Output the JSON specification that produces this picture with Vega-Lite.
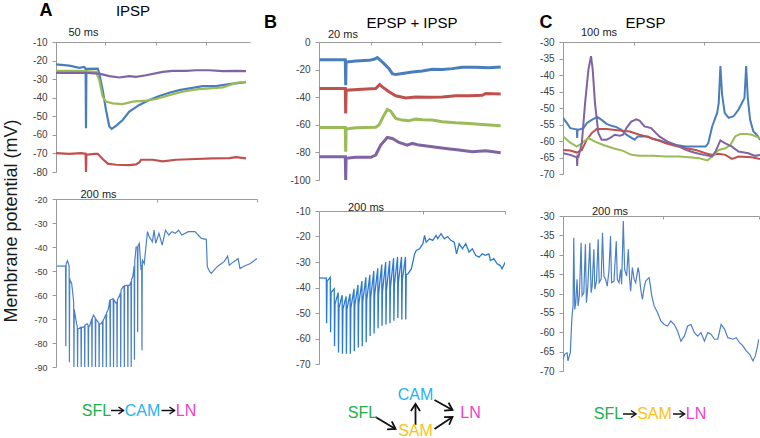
{
  "$schema": "https://vega.github.io/schema/vega-lite/v6.json",
  "background": "white",
  "padding": {"left": 2, "top": 2, "right": 3, "bottom": 0},
  "title": {"text": "Membrane potential (mV)", "orient": "left", "anchor": "middle", "fontSize": 18, "fontWeight": "normal", "font": "Liberation Sans", "color": "#1a1a1a", "offset": 12},
  "config": {
    "view": {"stroke": null},
    "font": "Liberation Sans",
    "axis": {"grid": false, "domainColor": "#9a9a9a", "tickColor": "#9a9a9a", "labelFont": "Liberation Sans", "labelFontSize": 10, "labelColor": "#404040", "titleFont": "Liberation Sans", "titleFontSize": 11, "titleFontWeight": "normal", "titleColor": "#222222", "tickSize": 4, "labelPadding": 5},
    "title": {"font": "Liberation Sans", "color": "#111111", "fontWeight": "normal"}
  },
  "datasets": {
    "aTop": [
      {"t":0,"v":-22,"c":"1"},{"t":13.3,"v":-22.7,"c":"1"},{"t":23.3,"v":-23.9,"c":"1"},{"t":28.3,"v":-23.4,"c":"1"},{"t":29.6,"v":-24.3,"c":"1"},{"t":30,"v":-56.4,"c":"1"},{"t":30.4,"v":-24.5,"c":"1"},{"t":41.7,"v":-24.3,"c":"1"},{"t":43.3,"v":-27,"c":"1"},{"t":46.7,"v":-35.9,"c":"1"},{"t":50,"v":-46.6,"c":"1"},{"t":53.3,"v":-55.5,"c":"1"},{"t":55.7,"v":-56.8,"c":"1"},{"t":60,"v":-55.2,"c":"1"},{"t":66.7,"v":-52,"c":"1"},{"t":73.3,"v":-47.5,"c":"1"},{"t":83.3,"v":-43.9,"c":"1"},{"t":93.3,"v":-41.3,"c":"1"},{"t":103.3,"v":-39.1,"c":"1"},{"t":113.3,"v":-37.3,"c":"1"},{"t":123.3,"v":-35.9,"c":"1"},{"t":133.3,"v":-35,"c":"1"},{"t":146.7,"v":-33.8,"c":"1"},{"t":160,"v":-33.8,"c":"1"},{"t":173.3,"v":-32.7,"c":"1"},{"t":190,"v":-31.6,"c":"1"},
      {"t":0,"v":-69.8,"c":"2"},{"t":13.3,"v":-70.2,"c":"2"},{"t":25,"v":-69.8,"c":"2"},{"t":29.6,"v":-70.2,"c":"2"},{"t":30,"v":-80,"c":"2"},{"t":30.4,"v":-70.7,"c":"2"},{"t":38.3,"v":-70.2,"c":"2"},{"t":41.7,"v":-70.2,"c":"2"},{"t":46.7,"v":-73,"c":"2"},{"t":51.7,"v":-75.5,"c":"2"},{"t":60,"v":-76.1,"c":"2"},{"t":73.3,"v":-76.3,"c":"2"},{"t":80,"v":-75.9,"c":"2"},{"t":83.3,"v":-74.8,"c":"2"},{"t":85,"v":-73.4,"c":"2"},{"t":96.7,"v":-73.4,"c":"2"},{"t":106.7,"v":-74.3,"c":"2"},{"t":120,"v":-73.4,"c":"2"},{"t":140,"v":-73,"c":"2"},{"t":156.7,"v":-72.7,"c":"2"},{"t":173.3,"v":-72.5,"c":"2"},{"t":180,"v":-72,"c":"2"},{"t":190,"v":-72.7,"c":"2"},
      {"t":0,"v":-25.5,"c":"3"},{"t":20,"v":-25.5,"c":"3"},{"t":29.3,"v":-25.7,"c":"3"},{"t":40,"v":-26.1,"c":"3"},{"t":43.3,"v":-30.5,"c":"3"},{"t":46.7,"v":-39.5,"c":"3"},{"t":50,"v":-42.1,"c":"3"},{"t":56.7,"v":-43,"c":"3"},{"t":66.7,"v":-43.4,"c":"3"},{"t":76.7,"v":-42.1,"c":"3"},{"t":90,"v":-41.6,"c":"3"},{"t":100,"v":-40.7,"c":"3"},{"t":113.3,"v":-38.6,"c":"3"},{"t":126.7,"v":-36.8,"c":"3"},{"t":140,"v":-35.5,"c":"3"},{"t":153.3,"v":-35,"c":"3"},{"t":166.7,"v":-34.5,"c":"3"},{"t":180,"v":-32,"c":"3"},{"t":190,"v":-31.4,"c":"3"},
      {"t":0,"v":-26.6,"c":"4"},{"t":13.3,"v":-26.6,"c":"4"},{"t":30,"v":-26.6,"c":"4"},{"t":43.3,"v":-27,"c":"4"},{"t":53.3,"v":-28.4,"c":"4"},{"t":63.3,"v":-29.1,"c":"4"},{"t":73.3,"v":-28.4,"c":"4"},{"t":80,"v":-28.8,"c":"4"},{"t":90,"v":-27.9,"c":"4"},{"t":106.7,"v":-26.1,"c":"4"},{"t":116.7,"v":-25.5,"c":"4"},{"t":130,"v":-25.5,"c":"4"},{"t":140,"v":-25.2,"c":"4"},{"t":153.3,"v":-25.2,"c":"4"},{"t":166.7,"v":-25.7,"c":"4"},{"t":180,"v":-25.5,"c":"4"},{"t":190,"v":-25.7,"c":"4"}
    ],
    "aBot": [
      {"t":1,"v":-48},{"t":8.3,"v":-48},{"t":9.7,"v":-48},{"t":10,"v":-81.4},{"t":10.3,"v":-47},{"t":11.7,"v":-45.7},{"t":13.4,"v":-48},{"t":13.7,"v":-88},{"t":14,"v":-53},{"t":14.3,"v":-53.8},{"t":16,"v":-55.2},{"t":17.3,"v":-60},{"t":18,"v":-63},{"t":18.3,"v":-90},{"t":18.6,"v":-66},{"t":19,"v":-67},{"t":21,"v":-72},{"t":21.7,"v":-73},{"t":22,"v":-90},{"t":22.3,"v":-74},{"t":23.3,"v":-74},{"t":25.4,"v":-73.5},{"t":25.7,"v":-90},{"t":26,"v":-73.5},{"t":28.3,"v":-73.3},{"t":29,"v":-73},{"t":29.3,"v":-90},{"t":29.6,"v":-72.5},{"t":31.7,"v":-72},{"t":32.7,"v":-72.5},{"t":33,"v":-90},{"t":33.3,"v":-73},{"t":34.3,"v":-73},{"t":36.4,"v":-70},{"t":36.7,"v":-90},{"t":37,"v":-69.5},{"t":38.3,"v":-68.4},{"t":40,"v":-69.5},{"t":40.3,"v":-90},{"t":40.6,"v":-70},{"t":43.3,"v":-71.5},{"t":43.7,"v":-71.7},{"t":44,"v":-90},{"t":44.3,"v":-72},{"t":45.7,"v":-72},{"t":47.4,"v":-71},{"t":47.7,"v":-90},{"t":48,"v":-70.5},{"t":48.3,"v":-70.5},{"t":51,"v":-68},{"t":51.3,"v":-90},{"t":51.6,"v":-67.5},{"t":53.3,"v":-66},{"t":55,"v":-62},{"t":55.3,"v":-90},{"t":55.6,"v":-62},{"t":58.3,"v":-61.5},{"t":58.7,"v":-90},{"t":59,"v":-62},{"t":61.7,"v":-63.6},{"t":62,"v":-63},{"t":62.3,"v":-90},{"t":62.6,"v":-62},{"t":65,"v":-60},{"t":65.7,"v":-59},{"t":66,"v":-90},{"t":66.3,"v":-58},{"t":68.3,"v":-56.6},{"t":69.4,"v":-56.3},{"t":69.7,"v":-90},{"t":70,"v":-56.2},{"t":71.7,"v":-56},{"t":73,"v":-56},{"t":73.3,"v":-90},{"t":73.6,"v":-56},{"t":75,"v":-56},{"t":76.4,"v":-54.5},{"t":76.7,"v":-90},{"t":77,"v":-53.5},{"t":78.3,"v":-52.4},{"t":79.7,"v":-48},{"t":80,"v":-87},{"t":80.3,"v":-46},{"t":81.7,"v":-40},{"t":83,"v":-40},{"t":83.3,"v":-75.5},{"t":83.6,"v":-39.5},{"t":85,"v":-38.5},{"t":86.7,"v":-49.6},{"t":87.4,"v":-47.5},{"t":87.7,"v":-83},{"t":88,"v":-46},{"t":88.3,"v":-45.5},{"t":90,"v":-47},{"t":91.7,"v":-40},{"t":93.3,"v":-33.6},{"t":95,"v":-35.7},{"t":98.3,"v":-37.8},{"t":100,"v":-33},{"t":101.7,"v":-38.5},{"t":105,"v":-34.3},{"t":108.3,"v":-39.2},{"t":111.7,"v":-33},{"t":115,"v":-35},{"t":118.3,"v":-33.6},{"t":121.7,"v":-34.3},{"t":125,"v":-33},{"t":128.3,"v":-35},{"t":135,"v":-33.6},{"t":141.7,"v":-33.6},{"t":145,"v":-35},{"t":148.3,"v":-36.4},{"t":153.3,"v":-36.8},{"t":154.3,"v":-48.2},{"t":156.7,"v":-50.3},{"t":158.3,"v":-51},{"t":161.7,"v":-49.4},{"t":165,"v":-48},{"t":171.7,"v":-46},{"t":175,"v":-43.8},{"t":176.7,"v":-47.6},{"t":181.7,"v":-46},{"t":185.7,"v":-44.8},{"t":187.7,"v":-49},{"t":191.7,"v":-48},{"t":198.3,"v":-46.9},{"t":205,"v":-44.8}
    ],
    "bTop": [
      {"t":0.5,"v":-12.8,"c":"1"},{"t":26.3,"v":-12.8,"c":"1"},{"t":26.7,"v":-31.3,"c":"1"},{"t":27.1,"v":-14.5,"c":"1"},{"t":36.7,"v":-13.7,"c":"1"},{"t":50,"v":-13.3,"c":"1"},{"t":55,"v":-12.5,"c":"1"},{"t":58.3,"v":-11.3,"c":"1"},{"t":60.7,"v":-12.8,"c":"1"},{"t":65,"v":-15.7,"c":"1"},{"t":70,"v":-19.3,"c":"1"},{"t":73.3,"v":-22.9,"c":"1"},{"t":76.7,"v":-23.6,"c":"1"},{"t":83.3,"v":-22.9,"c":"1"},{"t":93.3,"v":-21.7,"c":"1"},{"t":103.3,"v":-21,"c":"1"},{"t":113.3,"v":-19.8,"c":"1"},{"t":123.3,"v":-20,"c":"1"},{"t":133.3,"v":-19.3,"c":"1"},{"t":143.3,"v":-18.3,"c":"1"},{"t":156.7,"v":-18.3,"c":"1"},{"t":170,"v":-18.6,"c":"1"},{"t":181.7,"v":-18.1,"c":"1"},
      {"t":0.5,"v":-33.7,"c":"2"},{"t":26.3,"v":-33.7,"c":"2"},{"t":26.7,"v":-51.8,"c":"2"},{"t":27.1,"v":-34.9,"c":"2"},{"t":43.3,"v":-34.2,"c":"2"},{"t":56.7,"v":-33.7,"c":"2"},{"t":60.7,"v":-30.8,"c":"2"},{"t":63.3,"v":-32.5,"c":"2"},{"t":70,"v":-36.1,"c":"2"},{"t":76.7,"v":-39,"c":"2"},{"t":86.7,"v":-40.5,"c":"2"},{"t":96.7,"v":-39.8,"c":"2"},{"t":110,"v":-40,"c":"2"},{"t":123.3,"v":-39.8,"c":"2"},{"t":136.7,"v":-39,"c":"2"},{"t":150,"v":-39,"c":"2"},{"t":163.3,"v":-38.6,"c":"2"},{"t":166.7,"v":-37.3,"c":"2"},{"t":181.7,"v":-37.6,"c":"2"},
      {"t":0.5,"v":-61.9,"c":"3"},{"t":26.3,"v":-61.9,"c":"3"},{"t":26.7,"v":-79.5,"c":"3"},{"t":27.1,"v":-63.1,"c":"3"},{"t":36.7,"v":-62.2,"c":"3"},{"t":56.7,"v":-61.7,"c":"3"},{"t":60,"v":-60.2,"c":"3"},{"t":65,"v":-53,"c":"3"},{"t":68.3,"v":-48.9,"c":"3"},{"t":71.7,"v":-50.1,"c":"3"},{"t":76.7,"v":-55.4,"c":"3"},{"t":83.3,"v":-56.6,"c":"3"},{"t":90,"v":-57.1,"c":"3"},{"t":96.7,"v":-55.9,"c":"3"},{"t":103.3,"v":-56.4,"c":"3"},{"t":113.3,"v":-56.6,"c":"3"},{"t":123.3,"v":-57.8,"c":"3"},{"t":136.7,"v":-58.6,"c":"3"},{"t":150,"v":-59,"c":"3"},{"t":163.3,"v":-59.8,"c":"3"},{"t":181.7,"v":-60.7,"c":"3"},
      {"t":0.5,"v":-83.1,"c":"4"},{"t":26.3,"v":-83.1,"c":"4"},{"t":26.7,"v":-100,"c":"4"},{"t":27.1,"v":-84.3,"c":"4"},{"t":36.7,"v":-83.6,"c":"4"},{"t":51.7,"v":-83.6,"c":"4"},{"t":56.7,"v":-81.9,"c":"4"},{"t":61.7,"v":-74.7,"c":"4"},{"t":68.3,"v":-69.2,"c":"4"},{"t":73.3,"v":-69.9,"c":"4"},{"t":80,"v":-72.8,"c":"4"},{"t":88.3,"v":-74.7,"c":"4"},{"t":93.3,"v":-73.5,"c":"4"},{"t":100,"v":-74.7,"c":"4"},{"t":113.3,"v":-75.9,"c":"4"},{"t":126.7,"v":-77.1,"c":"4"},{"t":140,"v":-78.3,"c":"4"},{"t":153.3,"v":-79.5,"c":"4"},{"t":166.7,"v":-78.8,"c":"4"},{"t":181.7,"v":-80.2,"c":"4"}
    ],
    "bBot": [
      {"t":0,"v":-36.2},{"t":6.5,"v":-36.3},{"t":7.4,"v":-36.3},{"t":7.7,"v":-54},{"t":8.2,"v":-37.5},{"t":11.4,"v":-36},{"t":11.7,"v":-57.5},{"t":12.2,"v":-42},{"t":15.4,"v":-40.5},{"t":15.7,"v":-63},{"t":16.2,"v":-46.5},{"t":19.4,"v":-42},{"t":19.7,"v":-65.5},{"t":20.2,"v":-48},{"t":23.4,"v":-43},{"t":23.7,"v":-66},{"t":24.2,"v":-48.5},{"t":27.4,"v":-43.5},{"t":27.7,"v":-66},{"t":28.2,"v":-48.5},{"t":31.4,"v":-42.5},{"t":31.7,"v":-66},{"t":32.2,"v":-48},{"t":35.4,"v":-40.5},{"t":35.7,"v":-65},{"t":36.2,"v":-47},{"t":39.4,"v":-39},{"t":39.7,"v":-63.5},{"t":40.2,"v":-46.5},{"t":43.4,"v":-37.5},{"t":43.7,"v":-63},{"t":44.2,"v":-45.5},{"t":47.4,"v":-36},{"t":47.7,"v":-61.5},{"t":48.2,"v":-45},{"t":51.4,"v":-35},{"t":51.7,"v":-59},{"t":52.2,"v":-44},{"t":55.4,"v":-33.5},{"t":55.7,"v":-58},{"t":56.2,"v":-43},{"t":59.4,"v":-32.5},{"t":59.7,"v":-56},{"t":60.2,"v":-42.5},{"t":63.4,"v":-31},{"t":63.7,"v":-55},{"t":64.2,"v":-41.5},{"t":67.4,"v":-30},{"t":67.7,"v":-54.5},{"t":68.2,"v":-41},{"t":71.4,"v":-29.5},{"t":71.7,"v":-54},{"t":72.2,"v":-40},{"t":75.4,"v":-28.5},{"t":75.7,"v":-53},{"t":76.2,"v":-39},{"t":79.4,"v":-28},{"t":79.7,"v":-52},{"t":80.2,"v":-38},{"t":83.4,"v":-28},{"t":83.7,"v":-52.5},{"t":84.2,"v":-37},{"t":87.4,"v":-28},{"t":87.7,"v":-52.5},{"t":88.2,"v":-35},{"t":90,"v":-34.6},{"t":93.3,"v":-32.7},{"t":96.7,"v":-26.8},{"t":98.3,"v":-25.5},{"t":101.7,"v":-24.8},{"t":105,"v":-22.8},{"t":106.7,"v":-19.6},{"t":108.3,"v":-22.2},{"t":111.7,"v":-20.9},{"t":115,"v":-21.5},{"t":118.3,"v":-19.6},{"t":120,"v":-20.9},{"t":123.3,"v":-18.9},{"t":126.7,"v":-20.9},{"t":130,"v":-20},{"t":133.3,"v":-21.5},{"t":136.7,"v":-22.2},{"t":139,"v":-26.8},{"t":141.7,"v":-22.8},{"t":145,"v":-24.8},{"t":148.3,"v":-22.8},{"t":151.7,"v":-26.1},{"t":155,"v":-24.8},{"t":158.3,"v":-27.4},{"t":161.7,"v":-28.1},{"t":165,"v":-26.8},{"t":168.3,"v":-27.4},{"t":171.7,"v":-26.8},{"t":173.3,"v":-29.4},{"t":176.7,"v":-28.7},{"t":180,"v":-30.7},{"t":183.3,"v":-31.4},{"t":185,"v":-32.7},{"t":188.3,"v":-30}
    ],
    "cTop": [
      {"t":0,"v":-53,"c":"1"},{"t":4,"v":-54.6,"c":"1"},{"t":7.3,"v":-56.1,"c":"1"},{"t":12.3,"v":-56.4,"c":"1"},{"t":14,"v":-56.5,"c":"1"},{"t":14.3,"v":-59.1,"c":"1"},{"t":14.7,"v":-56.6,"c":"1"},{"t":15.7,"v":-56.6,"c":"1"},{"t":20.7,"v":-56.1,"c":"1"},{"t":24,"v":-54.6,"c":"1"},{"t":29,"v":-53.6,"c":"1"},{"t":34.7,"v":-52.7,"c":"1"},{"t":39,"v":-53.6,"c":"1"},{"t":44,"v":-54.8,"c":"1"},{"t":49,"v":-55.4,"c":"1"},{"t":54,"v":-55.8,"c":"1"},{"t":59,"v":-56.6,"c":"1"},{"t":64,"v":-58.1,"c":"1"},{"t":72.3,"v":-59.6,"c":"1"},{"t":75.7,"v":-58.6,"c":"1"},{"t":85.7,"v":-58.6,"c":"1"},{"t":90.7,"v":-59.4,"c":"1"},{"t":97.3,"v":-59.8,"c":"1"},{"t":105.7,"v":-60.7,"c":"1"},{"t":114,"v":-61.2,"c":"1"},{"t":124,"v":-61.7,"c":"1"},{"t":144,"v":-61.7,"c":"1"},{"t":146.7,"v":-60.7,"c":"1"},{"t":150.7,"v":-55.6,"c":"1"},{"t":155.7,"v":-51.5,"c":"1"},{"t":157.3,"v":-48.5,"c":"1"},{"t":159,"v":-37.3,"c":"1"},{"t":160.7,"v":-45.9,"c":"1"},{"t":163.3,"v":-51.5,"c":"1"},{"t":167.3,"v":-53,"c":"1"},{"t":172.3,"v":-52.5,"c":"1"},{"t":177.3,"v":-50.5,"c":"1"},{"t":180.7,"v":-48.5,"c":"1"},{"t":183.3,"v":-47,"c":"1"},{"t":185,"v":-37.3,"c":"1"},{"t":186.7,"v":-47,"c":"1"},{"t":189,"v":-53.6,"c":"1"},{"t":192.3,"v":-57.1,"c":"1"},{"t":195.7,"v":-58.1,"c":"1"},{"t":199,"v":-59.6,"c":"1"},
      {"t":0,"v":-62.7,"c":"2"},{"t":7.3,"v":-62.9,"c":"2"},{"t":14,"v":-63.5,"c":"2"},{"t":19,"v":-62.7,"c":"2"},{"t":24,"v":-59.6,"c":"2"},{"t":29,"v":-57.6,"c":"2"},{"t":34,"v":-56.4,"c":"2"},{"t":44,"v":-56.4,"c":"2"},{"t":50.7,"v":-56.6,"c":"2"},{"t":57.3,"v":-56.8,"c":"2"},{"t":67.3,"v":-57.1,"c":"2"},{"t":77.3,"v":-58.1,"c":"2"},{"t":84,"v":-58.6,"c":"2"},{"t":94,"v":-59.6,"c":"2"},{"t":104,"v":-60.7,"c":"2"},{"t":114,"v":-61.5,"c":"2"},{"t":124,"v":-62.2,"c":"2"},{"t":134,"v":-62.7,"c":"2"},{"t":144,"v":-63.7,"c":"2"},{"t":150.7,"v":-64.2,"c":"2"},{"t":157.3,"v":-63.9,"c":"2"},{"t":164,"v":-64.2,"c":"2"},{"t":170.7,"v":-65.4,"c":"2"},{"t":177.3,"v":-64.7,"c":"2"},{"t":190.7,"v":-64.9,"c":"2"},{"t":199,"v":-65.5,"c":"2"},
      {"t":0,"v":-58.6,"c":"3"},{"t":7.3,"v":-60.5,"c":"3"},{"t":14,"v":-61.7,"c":"3"},{"t":19,"v":-60.7,"c":"3"},{"t":25.7,"v":-59.1,"c":"3"},{"t":32.3,"v":-60.2,"c":"3"},{"t":40.7,"v":-61.2,"c":"3"},{"t":50.7,"v":-62.2,"c":"3"},{"t":60.7,"v":-63,"c":"3"},{"t":69,"v":-64.2,"c":"3"},{"t":77.3,"v":-64.5,"c":"3"},{"t":90.7,"v":-64.5,"c":"3"},{"t":104,"v":-64.7,"c":"3"},{"t":117.3,"v":-64.7,"c":"3"},{"t":127.3,"v":-64.9,"c":"3"},{"t":137.3,"v":-65.2,"c":"3"},{"t":145.7,"v":-65.9,"c":"3"},{"t":150.7,"v":-64.7,"c":"3"},{"t":157.3,"v":-62.7,"c":"3"},{"t":164,"v":-62.2,"c":"3"},{"t":169,"v":-61.2,"c":"3"},{"t":174,"v":-58.6,"c":"3"},{"t":179,"v":-57.9,"c":"3"},{"t":185.7,"v":-57.9,"c":"3"},{"t":190.7,"v":-58.1,"c":"3"},{"t":199,"v":-59.1,"c":"3"},
      {"t":0,"v":-63.7,"c":"4"},{"t":7.3,"v":-64.2,"c":"4"},{"t":13.3,"v":-64.9,"c":"4"},{"t":14,"v":-65,"c":"4"},{"t":14.3,"v":-67.6,"c":"4"},{"t":14.7,"v":-64.5,"c":"4"},{"t":15.7,"v":-64.7,"c":"4"},{"t":19,"v":-60.7,"c":"4"},{"t":22.3,"v":-48.5,"c":"4"},{"t":25.7,"v":-38.3,"c":"4"},{"t":28.3,"v":-34.3,"c":"4"},{"t":30,"v":-38.3,"c":"4"},{"t":32.3,"v":-48.5,"c":"4"},{"t":35.7,"v":-57.6,"c":"4"},{"t":39,"v":-59.6,"c":"4"},{"t":44,"v":-59.6,"c":"4"},{"t":47.3,"v":-59.1,"c":"4"},{"t":52.3,"v":-58.1,"c":"4"},{"t":57.3,"v":-58.4,"c":"4"},{"t":60.7,"v":-58.1,"c":"4"},{"t":64,"v":-56.1,"c":"4"},{"t":69,"v":-54.1,"c":"4"},{"t":74,"v":-53.4,"c":"4"},{"t":77.3,"v":-53.8,"c":"4"},{"t":82.3,"v":-55.6,"c":"4"},{"t":89,"v":-56.1,"c":"4"},{"t":97.3,"v":-58.6,"c":"4"},{"t":105.7,"v":-60.2,"c":"4"},{"t":114,"v":-61.2,"c":"4"},{"t":124,"v":-62.7,"c":"4"},{"t":132.3,"v":-63.5,"c":"4"},{"t":142.3,"v":-64.2,"c":"4"},{"t":150.7,"v":-64.7,"c":"4"},{"t":154,"v":-63.2,"c":"4"},{"t":159,"v":-59.8,"c":"4"},{"t":164,"v":-60.7,"c":"4"},{"t":170.7,"v":-61.7,"c":"4"},{"t":177.3,"v":-63.2,"c":"4"},{"t":187.3,"v":-63.7,"c":"4"},{"t":194,"v":-64.5,"c":"4"},{"t":199,"v":-64.2,"c":"4"}
    ],
    "cBot": [
      {"t":0,"v":-67},{"t":1.7,"v":-65.7},{"t":4,"v":-65.3},{"t":5,"v":-67.4},{"t":6.3,"v":-66.1},{"t":7.3,"v":-65.3},{"t":8.3,"v":-59.2},{"t":9,"v":-55.8},{"t":10,"v":-53.2},{"t":10.7,"v":-35.6},{"t":11.7,"v":-54.1},{"t":12.7,"v":-52.4},{"t":14,"v":-46.3},{"t":15,"v":-53.2},{"t":16.3,"v":-50.6},{"t":18,"v":-36.9},{"t":19,"v":-50.6},{"t":20.7,"v":-49.8},{"t":22.3,"v":-37.3},{"t":23.3,"v":-52.4},{"t":24.7,"v":-48.1},{"t":26.7,"v":-36.9},{"t":28,"v":-49.8},{"t":29,"v":-48.1},{"t":30.7,"v":-38.6},{"t":31.7,"v":-48.9},{"t":33.3,"v":-46.8},{"t":35,"v":-36},{"t":36,"v":-47.2},{"t":38,"v":-46.3},{"t":39.3,"v":-34.3},{"t":40.7,"v":-45.5},{"t":42.3,"v":-46.3},{"t":44,"v":-48.1},{"t":45.7,"v":-44.2},{"t":47.3,"v":-35.2},{"t":48.3,"v":-47.2},{"t":50.7,"v":-46.8},{"t":53,"v":-36.5},{"t":54,"v":-46.3},{"t":55.7,"v":-47.2},{"t":57.3,"v":-43.8},{"t":58.3,"v":-47.6},{"t":60,"v":-31.3},{"t":61.3,"v":-43.8},{"t":63.3,"v":-45.5},{"t":65,"v":-38.6},{"t":66.3,"v":-46.3},{"t":67.3,"v":-49.4},{"t":69,"v":-43.3},{"t":70.7,"v":-46.3},{"t":72.3,"v":-47.2},{"t":74.7,"v":-43.3},{"t":75.7,"v":-44.6},{"t":77.3,"v":-48.9},{"t":79,"v":-51.5},{"t":80.7,"v":-48.5},{"t":82.3,"v":-46.8},{"t":84,"v":-46.3},{"t":85.7,"v":-45.9},{"t":86.7,"v":-47.6},{"t":88.3,"v":-50.6},{"t":90.7,"v":-53.2},{"t":94,"v":-54.9},{"t":97.3,"v":-57.1},{"t":100.7,"v":-58},{"t":104,"v":-58.4},{"t":107.3,"v":-57.1},{"t":110.7,"v":-58},{"t":114,"v":-59.7},{"t":117.3,"v":-62.3},{"t":120.7,"v":-61},{"t":124,"v":-58.4},{"t":127.3,"v":-58},{"t":130.7,"v":-60.1},{"t":134,"v":-61},{"t":137.3,"v":-60.1},{"t":140.7,"v":-62.3},{"t":144,"v":-60.1},{"t":147.3,"v":-60.5},{"t":150.7,"v":-61.8},{"t":154,"v":-61.8},{"t":157.3,"v":-58},{"t":160.7,"v":-59.2},{"t":164,"v":-61.4},{"t":169,"v":-61.8},{"t":172.3,"v":-61.4},{"t":175.7,"v":-62.7},{"t":179,"v":-63.5},{"t":182.3,"v":-64.8},{"t":185.7,"v":-65.7},{"t":189,"v":-67.4},{"t":191.3,"v":-66.1},{"t":193.3,"v":-64},{"t":194.7,"v":-61.8}
    ],
    "circANodes": [
      {"x":40.5,"y":27.5,"label":"SFL","node":"SFL"},{"x":86.5,"y":27.5,"label":"CAM","node":"CAM"},{"x":130,"y":27.5,"label":"LN","node":"LN"}
    ],
    "circAEdges": [
      {"x":55,"y":27.5,"x2":67.5,"y2":27.5},{"x":105.5,"y":27.5,"x2":118.5,"y2":27.5}
    ],
    "circBNodes": [
      {"x":43.5,"y":28,"label":"SFL","node":"SFL"},{"x":96.5,"y":10,"label":"CAM","node":"CAM"},{"x":96.5,"y":46,"label":"SAM","node":"SAM"},{"x":151.5,"y":28,"label":"LN","node":"LN"}
    ],
    "circBEdges": [
      {"x":56.5,"y":32,"x2":76.5,"y2":44},{"x":96.5,"y":40,"x2":96.5,"y2":19},{"x":115.5,"y":15,"x2":133.5,"y2":25},{"x":115.5,"y":44,"x2":133.5,"y2":32}
    ],
    "circCNodes": [
      {"x":45.5,"y":12,"label":"SFL","node":"SFL"},{"x":91.5,"y":12,"label":"SAM","node":"SAM"},{"x":133,"y":12,"label":"LN","node":"LN"}
    ],
    "circCEdges": [
      {"x":60,"y":12,"x2":73,"y2":12},{"x":110,"y":12,"x2":121.5,"y2":12}
    ]
  },
  "spacing": 5,
  "resolve": {"scale": {"color": "independent"}},
  "hconcat": [
    {
      "title": {"text": "A", "anchor": "start", "fontSize": 18, "fontWeight": "bold", "color": "#000000", "dx": 7, "dy": 16, "offset": 0},
      "spacing": 11,
      "resolve": {"scale": {"color": "independent"}},
      "vconcat": [
        {
          "width": 194, "height": 130,
          "title": {"text": "IPSP", "fontSize": 15, "anchor": "middle", "dx": -20, "offset": 7, "color": "#000000"},
          "data": {"name": "aTop"},
          "mark": {"type": "line", "strokeWidth": 2.2, "clip": true},
          "encoding": {
            "x": {"field": "t", "type": "quantitative", "scale": {"domain": [0, 194], "nice": false, "zero": false}, "axis": {"orient": "top", "title": "50 ms", "titleX": 12, "titleY": -7, "titleAlign": "left", "titleBaseline": "alphabetic", "titleAngle": 0, "labels": false, "values": [0, 49, 100, 150], "tickSize": -3}},
            "y": {"field": "v", "type": "quantitative", "scale": {"domain": [-80, -10], "nice": false, "zero": false}, "axis": {"title": null, "values": [-80, -70, -60, -50, -40, -30, -20, -10], "labelExpr": "'' + datum.value"}},
            "color": {"field": "c", "type": "nominal", "scale": {"domain": ["1", "2", "3", "4"], "range": ["#4a7ebb", "#c0504d", "#9bbb59", "#8064a2"]}, "legend": null}
          }
        },
        {
          "width": 201, "height": 168,
          "data": {"name": "aBot"},
          "mark": {"type": "line", "strokeWidth": 1.2, "color": "#4a80c6", "clip": true},
          "encoding": {
            "x": {"field": "t", "type": "quantitative", "scale": {"domain": [0, 205], "nice": false, "zero": false}, "axis": {"orient": "top", "title": "200 ms", "titleX": 24, "titleY": -2, "titleAlign": "left", "titleBaseline": "alphabetic", "titleAngle": 0, "labels": false, "values": [0, 103.3, 205], "tickSize": -3}},
            "y": {"field": "v", "type": "quantitative", "scale": {"domain": [-90, -20], "nice": false, "zero": false}, "axis": {"title": null, "values": [-90, -80, -70, -60, -50, -40, -30, -20], "labelExpr": "'' + datum.value", "labelFontSize": 9}}
          }
        },
        {
          "width": 190, "height": 50,
          "layer": [
            {
              "data": {"name": "circAEdges"},
              "mark": {"type": "rule", "color": "#111111", "strokeWidth": 1.5},
              "encoding": {
                "x": {"field": "x", "type": "quantitative", "scale": {"domain": [0, 190], "nice": false, "zero": false}, "axis": null},
                "y": {"field": "y", "type": "quantitative", "scale": {"domain": [0, 50], "nice": false, "reverse": true}, "axis": null},
                "x2": {"field": "x2"}, "y2": {"field": "y2"}
              }
            },
            {
              "data": {"name": "circAEdges"},
              "transform": [{"calculate": "atan2(datum.y2 - datum.y, datum.x2 - datum.x) * 180 / PI", "as": "ang"}],
              "mark": {"type": "point", "shape": "M -1 -0.7 L 0 0 L -1 0.7", "filled": false, "stroke": "#111111", "strokeWidth": 1.5, "size": 100, "opacity": 1},
              "encoding": {
                "x": {"field": "x2", "type": "quantitative", "scale": {"domain": [0, 190], "nice": false, "zero": false}, "axis": null},
                "y": {"field": "y2", "type": "quantitative", "scale": {"domain": [0, 50], "nice": false, "reverse": true}, "axis": null},
                "angle": {"field": "ang", "type": "quantitative", "scale": null}
              }
            },
            {
              "data": {"name": "circANodes"},
              "mark": {"type": "text", "fontSize": 16, "font": "Liberation Sans", "align": "center", "baseline": "middle"},
              "encoding": {
                "x": {"field": "x", "type": "quantitative", "scale": {"domain": [0, 190], "nice": false, "zero": false}, "axis": null},
                "y": {"field": "y", "type": "quantitative", "scale": {"domain": [0, 50], "nice": false, "reverse": true}, "axis": null},
                "text": {"field": "label"},
                "color": {"field": "node", "type": "nominal", "scale": {"domain": ["SFL", "CAM", "SAM", "LN"], "range": ["#20b14d", "#1fb3ee", "#fcc212", "#ef3fc9"]}, "legend": null}
              }
            }
          ]
        }
      ]
    },
    {
      "title": {"text": "B", "anchor": "start", "fontSize": 18, "fontWeight": "bold", "color": "#000000", "dx": -26, "dy": 16, "offset": 0},
      "spacing": 16,
      "resolve": {"scale": {"color": "independent"}},
      "vconcat": [
        {
          "width": 182, "height": 138,
          "title": {"text": "EPSP + IPSP", "fontSize": 15, "anchor": "middle", "dx": 2, "offset": -3, "color": "#000000"},
          "data": {"name": "bTop"},
          "mark": {"type": "line", "strokeWidth": 3, "clip": true},
          "encoding": {
            "x": {"field": "t", "type": "quantitative", "scale": {"domain": [0, 182], "nice": false, "zero": false}, "axis": {"orient": "top", "title": "20 ms", "titleX": 8.5, "titleY": -5, "titleAlign": "left", "titleBaseline": "alphabetic", "titleAngle": 0, "labels": false, "values": [0, 52.3, 103.3, 156], "tickSize": -3}},
            "y": {"field": "v", "type": "quantitative", "scale": {"domain": [-100, 0], "nice": false, "zero": false}, "axis": {"title": null, "values": [-100, -80, -60, -40, -20, 0], "labelExpr": "'' + datum.value"}},
            "color": {"field": "c", "type": "nominal", "scale": {"domain": ["1", "2", "3", "4"], "range": ["#4a7ebb", "#c0504d", "#9bbb59", "#8064a2"]}, "legend": null}
          }
        },
        {
          "width": 186, "height": 153,
          "data": {"name": "bBot"},
          "mark": {"type": "line", "strokeWidth": 1.3, "color": "#2c7bd0", "clip": true},
          "encoding": {
            "x": {"field": "t", "type": "quantitative", "scale": {"domain": [0, 188], "nice": false, "zero": false}, "axis": {"orient": "top", "title": "200 ms", "titleX": 28.5, "titleY": -1, "titleAlign": "left", "titleBaseline": "alphabetic", "titleAngle": 0, "labels": false, "values": [0, 105, 188], "tickSize": -3}},
            "y": {"field": "v", "type": "quantitative", "scale": {"domain": [-70, -10], "nice": false, "zero": false}, "axis": {"title": null, "values": [-70, -60, -50, -40, -30, -20, -10], "labelExpr": "'' + datum.value"}}
          }
        },
        {
          "width": 180, "height": 50,
          "layer": [
            {
              "data": {"name": "circBEdges"},
              "mark": {"type": "rule", "color": "#111111", "strokeWidth": 1.8},
              "encoding": {
                "x": {"field": "x", "type": "quantitative", "scale": {"domain": [0, 180], "nice": false, "zero": false}, "axis": null},
                "y": {"field": "y", "type": "quantitative", "scale": {"domain": [0, 50], "nice": false, "reverse": true}, "axis": null},
                "x2": {"field": "x2"}, "y2": {"field": "y2"}
              }
            },
            {
              "data": {"name": "circBEdges"},
              "transform": [{"calculate": "atan2(datum.y2 - datum.y, datum.x2 - datum.x) * 180 / PI", "as": "ang"}],
              "mark": {"type": "point", "shape": "M -1 -0.65 L 0 0 L -1 0.65", "filled": false, "stroke": "#111111", "strokeWidth": 1.8, "size": 200, "opacity": 1},
              "encoding": {
                "x": {"field": "x2", "type": "quantitative", "scale": {"domain": [0, 180], "nice": false, "zero": false}, "axis": null},
                "y": {"field": "y2", "type": "quantitative", "scale": {"domain": [0, 50], "nice": false, "reverse": true}, "axis": null},
                "angle": {"field": "ang", "type": "quantitative", "scale": null}
              }
            },
            {
              "data": {"name": "circBNodes"},
              "mark": {"type": "text", "fontSize": 16, "font": "Liberation Sans", "align": "center", "baseline": "middle"},
              "encoding": {
                "x": {"field": "x", "type": "quantitative", "scale": {"domain": [0, 180], "nice": false, "zero": false}, "axis": null},
                "y": {"field": "y", "type": "quantitative", "scale": {"domain": [0, 50], "nice": false, "reverse": true}, "axis": null},
                "text": {"field": "label"},
                "color": {"field": "node", "type": "nominal", "scale": {"domain": ["SFL", "CAM", "SAM", "LN"], "range": ["#20b14d", "#1fb3ee", "#fcc212", "#ef3fc9"]}, "legend": null}
              }
            }
          ]
        }
      ]
    },
    {
      "width": 23, "height": 10,
      "data": {"values": [{}]},
      "mark": {"type": "point", "opacity": 0},
      "encoding": {}
    },
    {
      "title": {"text": "C", "anchor": "start", "fontSize": 18, "fontWeight": "bold", "color": "#000000", "dx": 0, "dy": 16, "offset": 0},
      "spacing": 26,
      "resolve": {"scale": {"color": "independent"}},
      "vconcat": [
        {
          "width": 197, "height": 132,
          "title": {"text": "EPSP", "fontSize": 15, "anchor": "middle", "dx": -16, "offset": -5, "color": "#000000"},
          "data": {"name": "cTop"},
          "mark": {"type": "line", "strokeWidth": 2, "clip": true},
          "encoding": {
            "x": {"field": "t", "type": "quantitative", "scale": {"domain": [0, 199], "nice": false, "zero": false}, "axis": {"orient": "top", "title": "100 ms", "titleX": 17.5, "titleY": -7, "titleAlign": "left", "titleBaseline": "alphabetic", "titleAngle": 0, "labels": false, "values": [0, 71.7, 142.3], "tickSize": -3}},
            "y": {"field": "v", "type": "quantitative", "scale": {"domain": [-70, -30], "nice": false, "zero": false}, "axis": {"title": null, "values": [-70, -65, -60, -55, -50, -45, -40, -35, -30], "labelExpr": "'' + datum.value"}},
            "color": {"field": "c", "type": "nominal", "scale": {"domain": ["1", "2", "3", "4"], "range": ["#4a7ebb", "#c0504d", "#9bbb59", "#8064a2"]}, "legend": null}
          }
        },
        {
          "width": 196, "height": 155,
          "data": {"name": "cBot"},
          "mark": {"type": "line", "strokeWidth": 1.2, "color": "#4a80c6", "clip": true},
          "encoding": {
            "x": {"field": "t", "type": "quantitative", "scale": {"domain": [0, 195], "nice": false, "zero": false}, "axis": {"orient": "top", "title": "200 ms", "titleX": 28.5, "titleY": -2, "titleAlign": "left", "titleBaseline": "alphabetic", "titleAngle": 0, "labels": false, "values": [0, 99.7, 195], "tickSize": -3}},
            "y": {"field": "v", "type": "quantitative", "scale": {"domain": [-70, -30], "nice": false, "zero": false}, "axis": {"title": null, "values": [-70, -65, -60, -55, -50, -45, -40, -35, -30], "labelExpr": "'' + datum.value"}}
          }
        },
        {
          "width": 190, "height": 38,
          "layer": [
            {
              "data": {"name": "circCEdges"},
              "mark": {"type": "rule", "color": "#111111", "strokeWidth": 1.5},
              "encoding": {
                "x": {"field": "x", "type": "quantitative", "scale": {"domain": [0, 190], "nice": false, "zero": false}, "axis": null},
                "y": {"field": "y", "type": "quantitative", "scale": {"domain": [0, 38], "nice": false, "reverse": true}, "axis": null},
                "x2": {"field": "x2"}, "y2": {"field": "y2"}
              }
            },
            {
              "data": {"name": "circCEdges"},
              "transform": [{"calculate": "atan2(datum.y2 - datum.y, datum.x2 - datum.x) * 180 / PI", "as": "ang"}],
              "mark": {"type": "point", "shape": "M -1 -0.7 L 0 0 L -1 0.7", "filled": false, "stroke": "#111111", "strokeWidth": 1.5, "size": 100, "opacity": 1},
              "encoding": {
                "x": {"field": "x2", "type": "quantitative", "scale": {"domain": [0, 190], "nice": false, "zero": false}, "axis": null},
                "y": {"field": "y2", "type": "quantitative", "scale": {"domain": [0, 38], "nice": false, "reverse": true}, "axis": null},
                "angle": {"field": "ang", "type": "quantitative", "scale": null}
              }
            },
            {
              "data": {"name": "circCNodes"},
              "mark": {"type": "text", "fontSize": 16, "font": "Liberation Sans", "align": "center", "baseline": "middle"},
              "encoding": {
                "x": {"field": "x", "type": "quantitative", "scale": {"domain": [0, 190], "nice": false, "zero": false}, "axis": null},
                "y": {"field": "y", "type": "quantitative", "scale": {"domain": [0, 38], "nice": false, "reverse": true}, "axis": null},
                "text": {"field": "label"},
                "color": {"field": "node", "type": "nominal", "scale": {"domain": ["SFL", "CAM", "SAM", "LN"], "range": ["#20b14d", "#1fb3ee", "#fcc212", "#ef3fc9"]}, "legend": null}
              }
            }
          ]
        }
      ]
    }
  ]
}
